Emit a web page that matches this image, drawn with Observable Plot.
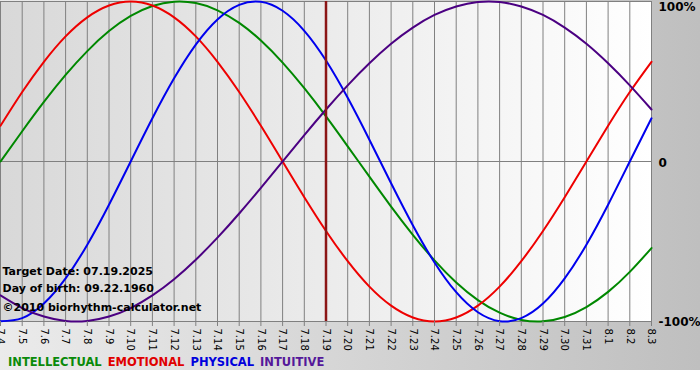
<!DOCTYPE html>
<html>
<head>
<meta charset="utf-8">
<script src="https://cdn.jsdelivr.net/npm/d3@7"></script>
<script src="https://cdn.jsdelivr.net/npm/@observablehq/plot@0.6"></script>
<style>
  html, body { margin: 0; padding: 0; background: #ffffff; }
  #wrap { width: 700px; height: 370px; background: linear-gradient(to right, #ebebeb, #bfbfbf); position: relative; overflow: hidden; }
  #legend { height: 16px; line-height: 16px; padding-left: 8px; font-family: "DejaVu Sans", sans-serif; font-weight: bold; font-size: 11.5px; white-space: nowrap; }
  #legend span { margin-right: 6px; }
</style>
</head>
<body>
<div id="wrap">
  <div id="chart"></div>
  <div id="legend"></div>
</div>
<script>
// ---- data ----
const dayLabels = ["7.4","7.5","7.6","7.7","7.8","7.9","7.10","7.11","7.12","7.13","7.14","7.15","7.16","7.17","7.18","7.19","7.20","7.21","7.22","7.23","7.24","7.25","7.26","7.27","7.28","7.29","7.30","7.31","8.1","8.2","8.3"];
const intellectual = [0, 18.9, 37.2, 54.1, 69.0, 81.5, 91.0, 97.2, 99.9, 99.0, 94.5, 86.6, 75.6, 61.8, 45.8, 28.2, 9.5, -9.5, -28.2, -45.8, -61.8, -75.6, -86.6, -94.5, -99.0, -99.9, -97.2, -91.0, -81.5, -69.0, -54.1];
const emotional = [22.3, 43.4, 62.3, 78.2, 90.1, 97.5, 100, 97.5, 90.1, 78.2, 62.3, 43.4, 22.3, 0, -22.3, -43.4, -62.3, -78.2, -90.1, -97.5, -100, -97.5, -90.1, -78.2, -62.3, -43.4, -22.3, 0, 22.3, 43.4, 62.3];
const physical = [-99.8, -97.9, -88.8, -73.1, -52.0, -27.0, 0, 27.0, 52.0, 73.1, 88.8, 97.9, 99.8, 94.2, 81.7, 63.1, 39.8, 13.6, -13.6, -39.8, -63.1, -81.7, -94.2, -99.8, -97.9, -88.8, -73.1, -52.0, -27.0, 0, 27.0];
const intuitive = [-83.7, -91.6, -96.9, -99.7, -99.7, -96.9, -91.6, -83.7, -73.6, -61.4, -47.6, -32.5, -16.5, 0, 16.5, 32.5, 47.6, 61.4, 73.6, 83.7, 91.6, 96.9, 99.7, 99.7, 96.9, 91.6, 83.7, 73.6, 61.4, 47.6, 32.5];
const seriesNames = ["INTELLECTUAL", "EMOTIONAL", "PHYSICAL", "INTUITIVE"];
const seriesColors = ["#008800", "#ee0000", "#0000ee", "#4b0082"];
const legendColors = ["#0a8a0a", "#e00000", "#0000dd", "#55189a"];
const targetDay = "7.19";
const yTicks = [100, 0, -100];
const yTickLabels = ["100%", "0", "-100%"];
const infoLines = ["Target Date: 07.19.2025", "Day of birth: 09.22.1960", "\u00a92010 biorhythm-calculator.net"];

// ---- build table ----
const seriesValues = [intellectual, emotional, physical, intuitive];
const dayIndex = new Map(dayLabels.map((d, i) => [d, i]));
const rows = [];
seriesNames.forEach((name, i) => {
  seriesValues[i].forEach((v, j) => rows.push({series: name, day: j, value: v}));
});
const tickIdx = dayLabels.map((d) => dayIndex.get(d));

const gradientDefs = () => {
  const defs = d3.create("svg:defs");
  const g = defs.append("linearGradient").attr("id", "plotbg").attr("x1", 0).attr("x2", 1).attr("y1", 0).attr("y2", 0);
  g.append("stop").attr("offset", "0%").attr("stop-color", "#d8d8d8");
  g.append("stop").attr("offset", "100%").attr("stop-color", "#ffffff");
  return defs.node();
};

const yLabelMark = (i, anchor, dy) => Plot.text([yTicks[i]], {
  y: (d) => d, text: () => yTickLabels[i], frameAnchor: "right", textAnchor: "start",
  lineAnchor: anchor, dx: 7, dy, fontSize: 12, fontWeight: "bold", fill: "#000"
});

const chart = Plot.plot({
  width: 700,
  height: 354,
  marginLeft: 0,
  marginRight: 49,
  marginTop: 1,
  marginBottom: 33,
  style: {background: "transparent", fontFamily: "DejaVu Sans, sans-serif", overflow: "visible"},
  x: {type: "linear", domain: [0, dayLabels.length - 1]},
  y: {domain: [-100, 100], axis: null},
  color: {domain: seriesNames, range: seriesColors},
  marks: [
    gradientDefs,
    Plot.frame({fill: "url(#plotbg)", stroke: "none"}),
    Plot.gridX({ticks: tickIdx, stroke: "#808080", strokeOpacity: 1}),
    Plot.ruleY([0], {stroke: "#808080"}),
    Plot.frame({stroke: "#808080"}),
    Plot.line(rows, {x: "day", y: "value", z: "series", stroke: "series", strokeWidth: 2, curve: "natural"}),
    Plot.ruleX([dayIndex.get(targetDay)], {stroke: "#8b1515", strokeWidth: 2.5}),
    Plot.axisX({ticks: tickIdx, tickFormat: (i) => dayLabels[i], tickRotate: 90, tickSize: 5, tickPadding: 2, fontSize: 10, label: null, stroke: "#808080", fill: "#000"}),
    yLabelMark(0, "top", 1),
    yLabelMark(1, "middle", 2),
    yLabelMark(2, "middle", 1),
    Plot.text([infoLines[0]], {text: (d) => d, frameAnchor: "bottom-left", lineAnchor: "middle", textAnchor: "start", dx: 2, dy: -50, fontSize: 11, fontWeight: "bold", fill: "#000"}),
    Plot.text([infoLines[1]], {text: (d) => d, frameAnchor: "bottom-left", lineAnchor: "middle", textAnchor: "start", dx: 2, dy: -33, fontSize: 11, fontWeight: "bold", fill: "#000"}),
    Plot.text([infoLines[2]], {text: (d) => d, frameAnchor: "bottom-left", lineAnchor: "middle", textAnchor: "start", dx: 2, dy: -14, fontSize: 11, fontWeight: "bold", fill: "#000"})
  ]
});
document.getElementById("chart").appendChild(chart);

const legend = document.getElementById("legend");
seriesNames.forEach((name, i) => {
  const s = document.createElement("span");
  s.textContent = name;
  s.style.color = legendColors[i];
  legend.appendChild(s);
});
</script>
</body>
</html>
